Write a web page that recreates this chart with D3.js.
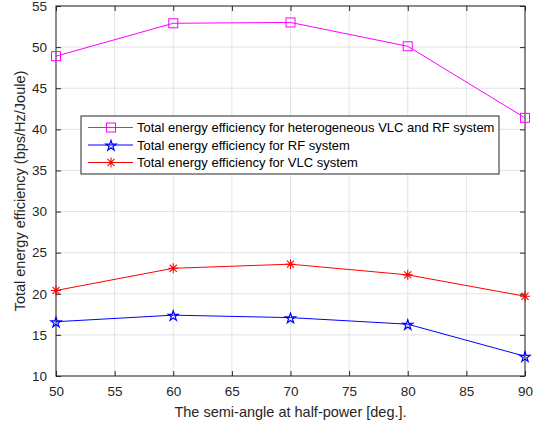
<!DOCTYPE html>
<html>
<head>
<meta charset="utf-8">
<script src="https://cdn.jsdelivr.net/npm/d3@7"></script>
<style>
  body { margin: 0; background: #fff; }
  svg { display: block; font-family: 'Liberation Sans', Arial, sans-serif; }
</style>
</head>
<body>
<svg id="chart" width="542" height="427"></svg>
<script>
const angles = [50, 60, 70, 80, 90];
const heteroEE = [48.9, 52.9, 53.0, 50.1, 41.4];
const rfEE = [16.6, 17.4, 17.1, 16.3, 12.4];
const vlcEE = [20.4, 23.1, 23.6, 22.3, 19.7];
const xTicks = [50, 55, 60, 65, 70, 75, 80, 85, 90];
const yTicks = [10, 15, 20, 25, 30, 35, 40, 45, 50, 55];

const series = [
  { name: 'Total energy efficiency for heterogeneous VLC and RF system', values: heteroEE, color: '#ff00ff', marker: 'square' },
  { name: 'Total energy efficiency for RF system', values: rfEE, color: '#0000ff', marker: 'star' },
  { name: 'Total energy efficiency for VLC system', values: vlcEE, color: '#ff0000', marker: 'asterisk' }
];

const svg = d3.select('#chart');
const margin = { left: 56, right: 17, top: 6, bottom: 51 };
const width = 542 - margin.left - margin.right;
const height = 427 - margin.top - margin.bottom;

const x = d3.scaleLinear().domain([50, 90]).range([0, width]);
const y = d3.scaleLinear().domain([10, 55]).range([height, 0]);

const g = svg.append('g').attr('transform', `translate(${margin.left},${margin.top})`);

// grid
g.append('g').selectAll('line').data(xTicks).enter().append('line')
    .attr('x1', (d) => x(d)).attr('x2', (d) => x(d))
    .attr('y1', 0).attr('y2', height)
    .style('stroke', '#e3e3e3').style('stroke-width', 1);
g.append('g').selectAll('line').data(yTicks).enter().append('line')
    .attr('y1', (d) => y(d)).attr('y2', (d) => y(d))
    .attr('x1', 0).attr('x2', width)
    .style('stroke', '#e3e3e3').style('stroke-width', 1);

// axes, ticks pointing inward
const axisColor = '#262626';
const styleAxis = (sel) => {
  sel.select('.domain').remove();
  sel.selectAll('line').style('stroke', axisColor);
  sel.selectAll('text').style('fill', axisColor).style('font-size', '13.5px')
      .style('font-family', "'Liberation Sans', Arial, sans-serif");
};

g.append('g').attr('transform', `translate(0,${height})`)
    .call(d3.axisBottom(x).tickValues(xTicks).tickSize(-5).tickPadding(10))
    .call(styleAxis);
g.append('g')
    .call(d3.axisTop(x).tickValues(xTicks).tickSize(-5).tickFormat(''))
    .call(styleAxis);
g.append('g')
    .call(d3.axisLeft(y).tickValues(yTicks).tickSize(-5).tickPadding(9))
    .call(styleAxis);
g.append('g').attr('transform', `translate(${width},0)`)
    .call(d3.axisRight(y).tickValues(yTicks).tickSize(-5).tickFormat(''))
    .call(styleAxis);

g.append('rect')
    .attr('width', width).attr('height', height)
    .style('fill', 'none').style('stroke', axisColor).style('stroke-width', 1);

// markers
const drawMarker = (sel, type, color) => {
  if (type === 'square') {
    sel.append('rect').attr('x', -4.5).attr('y', -4.5).attr('width', 9).attr('height', 9)
        .style('fill', 'none').style('stroke', color).style('stroke-width', 1);
  } else if (type === 'star') {
    sel.append('path').attr('d', d3.symbol(d3.symbolStar, 32)())
        .attr('transform', 'translate(0,0.8)')
        .style('fill', 'none').style('stroke', color).style('stroke-width', 1.2);
  } else {
    const r = 5;
    const path = d3.path();
    for (let i = 0; i < 4; i++) {
      const a = i * Math.PI / 4;
      path.moveTo(-r * Math.cos(a), -r * Math.sin(a));
      path.lineTo(r * Math.cos(a), r * Math.sin(a));
    }
    sel.append('path').attr('d', path.toString())
        .style('fill', 'none').style('stroke', color).style('stroke-width', 1.1);
  }
};

const line = d3.line().x((d, i) => x(angles[i])).y((d) => y(d));

series.forEach((s) => {
  g.append('path').datum(s.values)
      .attr('d', line)
      .style('fill', 'none').style('stroke', s.color).style('stroke-width', 1);
  g.append('g').selectAll('g').data(s.values).enter().append('g')
      .attr('transform', (d, i) => `translate(${x(angles[i])},${y(d)})`)
      .each(function() { drawMarker(d3.select(this), s.marker, s.color); });
});

// legend
const legend = svg.append('g').attr('transform', 'translate(81,116)');
legend.append('rect').attr('width', 418).attr('height', 58)
    .style('fill', 'white').style('stroke', axisColor).style('stroke-width', 1);
const rows = legend.selectAll('g.row').data(series).enter().append('g')
    .classed('row', true)
    .attr('transform', (d, i) => `translate(0,${11.5 + i * 17.5})`);
rows.append('line').attr('x1', 7).attr('x2', 52)
    .style('stroke', (d) => d.color).style('stroke-width', 1);
rows.append('g').attr('transform', 'translate(30,0)')
    .each(function(d) { drawMarker(d3.select(this), d.marker, d.color); });
rows.append('text').attr('x', 56).attr('dy', '0.35em')
    .text((d) => d.name)
    .style('font-size', '13px').style('fill', '#000');

// axis labels
svg.append('text')
    .attr('x', margin.left + width / 2).attr('y', 417)
    .attr('text-anchor', 'middle')
    .style('font-size', '14.5px').style('fill', axisColor)
    .text('The semi-angle at half-power [deg.].');
svg.append('text')
    .attr('transform', `translate(25,${margin.top + height / 2}) rotate(-90)`)
    .attr('text-anchor', 'middle')
    .style('font-size', '14.5px').style('fill', axisColor)
    .text('Total energy efficiency (bps/Hz/Joule)');
</script>
</body>
</html>
